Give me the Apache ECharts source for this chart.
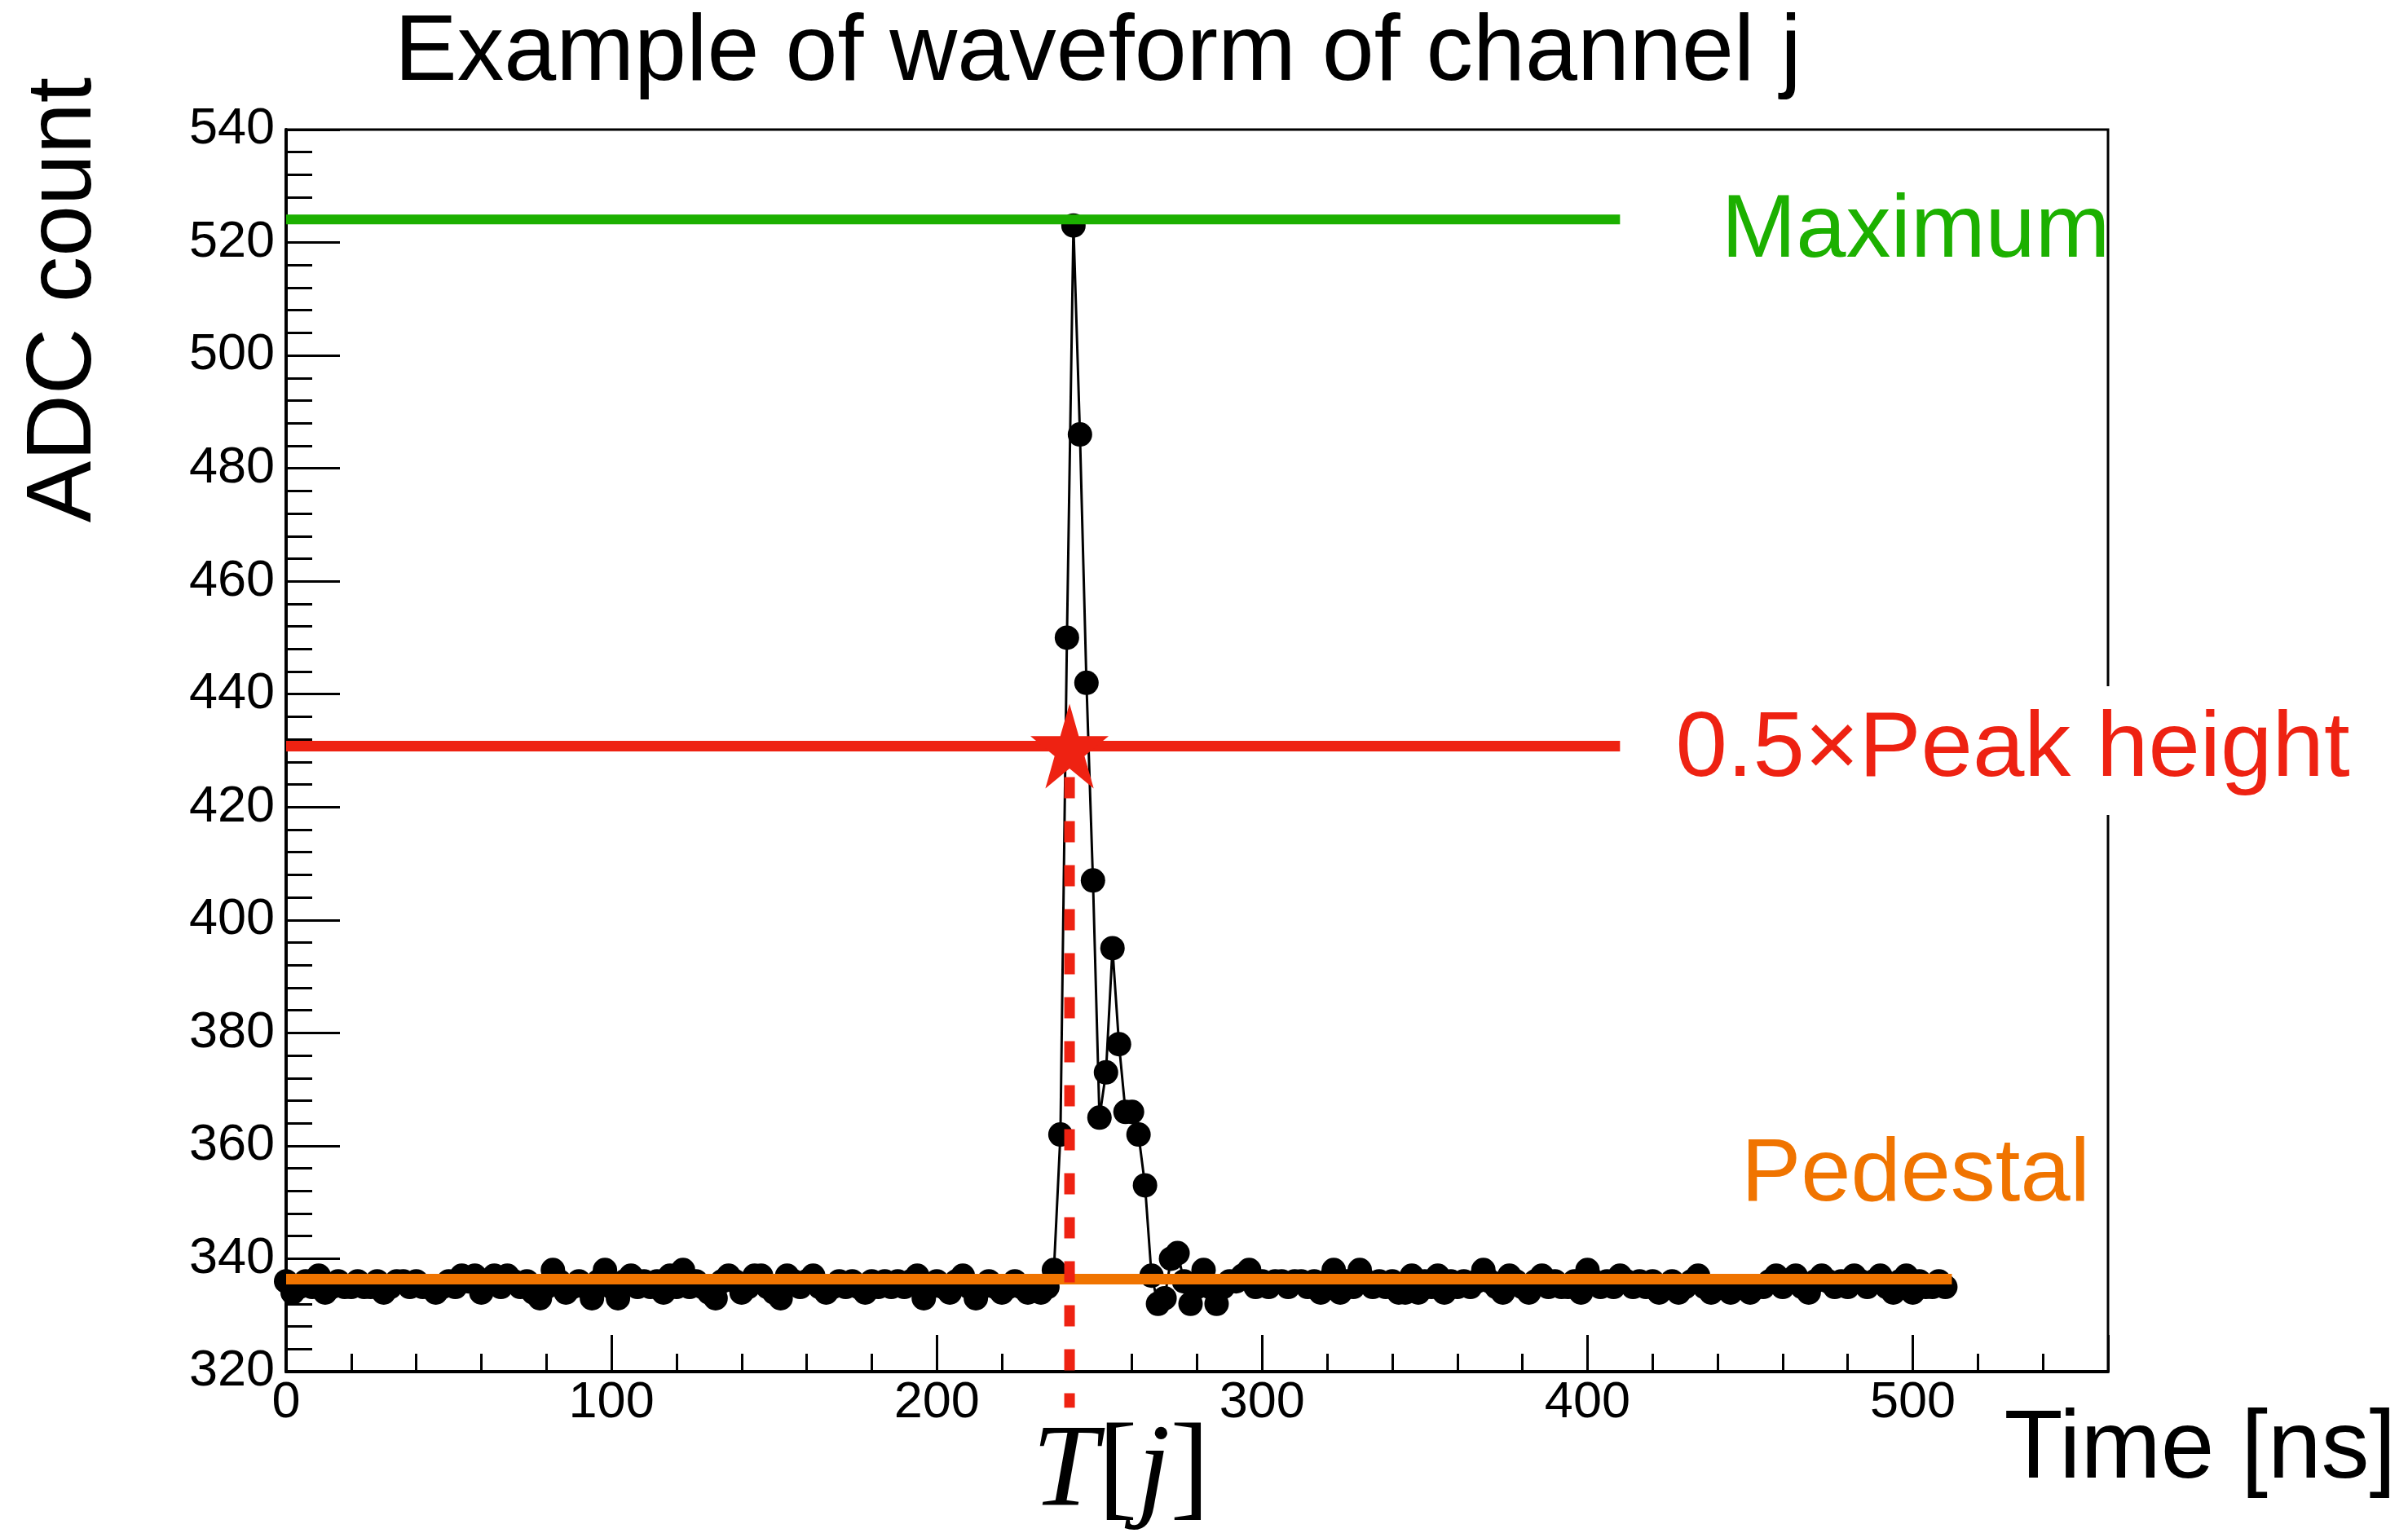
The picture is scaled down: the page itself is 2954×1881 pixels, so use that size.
<!DOCTYPE html>
<html>
<head>
<meta charset="utf-8">
<title>Example of waveform of channel j</title>
<script src="https://cdn.jsdelivr.net/npm/echarts@6/dist/echarts.min.js"></script>
<style>
  html, body { margin: 0; padding: 0; background: #ffffff; }
  #chart { width: 2954px; height: 1881px; }
</style>
</head>
<body>
<div id="chart"></div>
<script>
// Digitizer sampling period (ns) and the ADC samples of channel j, one every period from t = 0.
const samplePeriod = 2;
const adcCounts = [
  // 0 - 98 ns
  336, 334, 335, 336, 335, 337, 334, 335, 336, 335,
  335, 336, 335, 335, 336, 334, 335, 336, 336, 335,
  336, 335, 335, 334, 335, 336, 335, 337, 336, 337,
  334, 336, 337, 335, 337, 336, 335, 336, 334, 333,
  335, 338, 336, 334, 335, 336, 335, 333, 336, 338,
  // 100 - 198 ns
  335, 333, 336, 337, 335, 336, 335, 336, 334, 337,
  335, 338, 335, 336, 335, 334, 333, 336, 337, 336,
  334, 335, 337, 337, 335, 334, 333, 337, 336, 335,
  336, 337, 335, 334, 335, 336, 335, 336, 335, 334,
  336, 335, 336, 335, 336, 335, 336, 337, 333, 335,
  // 200 - 298 ns (pulse)
  336, 335, 334, 336, 337, 335, 333, 335, 336, 335,
  334, 335, 336, 335, 334, 335, 334, 335, 338, 362,
  450, 523, 486, 442, 407, 365, 373, 395, 378, 366,
  366, 362, 353, 337, 332, 333, 340, 341, 336, 332,
  335, 338, 335, 332, 335, 336, 336, 337, 338, 335,
  // 300 - 398 ns
  336, 335, 336, 336, 335, 336, 336, 335, 336, 334,
  336, 338, 334, 336, 335, 338, 336, 335, 336, 335,
  336, 334, 334, 337, 334, 336, 335, 337, 334, 336,
  335, 336, 335, 336, 338, 336, 335, 334, 337, 336,
  335, 334, 336, 337, 335, 336, 335, 335, 336, 334,
  // 400 - 510 ns
  338, 336, 335, 336, 335, 337, 336, 335, 336, 335,
  336, 334, 335, 336, 334, 335, 336, 337, 335, 334,
  335, 335, 334, 335, 335, 334, 335, 335, 336, 337,
  335, 336, 337, 335, 334, 336, 337, 336, 335, 336,
  335, 337, 336, 335, 336, 337, 335, 334, 336, 337,
  334, 336, 335, 335, 336, 335
];

// Reference levels extracted from the waveform (ADC counts) and the time T[j] (ns)
// where the leading edge crosses half of the peak height.
const maximumLevel = 524.1;
const halfHeightLevel = 430.8;
const pedestalLevel = 336.4;
const crossingTime = 240.8;

// Horizontal extent (ns) of the level lines, and the lower end of the T[j] drop line (ADC).
const levelLineRange = [0, 410];
const pedestalLineRange = [0, 512];
const dropLineBottom = 313.6;

// Axis ranges and tick steps.
const xRange = [0, 560];
const xMinorStep = 20;
const xMajorStep = 100;
const yRange = [320, 540];
const yMajorStep = 20;
const yMinorSplit = 5;

const waveformPoints = adcCounts.map((v, i) => [i * samplePeriod, v]);

const COLOR_MAX = '#1cb000';
const COLOR_HALF = '#ee2212';
const COLOR_PED = '#f07400';
const FONT = "'Liberation Sans', Helvetica, Arial, sans-serif";
const SERIF = "'Liberation Serif', 'Times New Roman', serif";

const starPath = 'path://M50,0L61.23,34.55L97.55,34.55L68.17,55.9L79.39,90.45L50,69.1L20.61,90.45L31.83,55.9L2.45,34.55L38.77,34.55Z';

const chart = echarts.init(document.getElementById('chart'), null, { renderer: 'canvas' });

const option = {
  backgroundColor: '#ffffff',
  animation: false,
  grid: {
    left: 351, top: 159, width: 2235, height: 1524,
    show: true, borderColor: '#000', borderWidth: 3, backgroundColor: 'transparent'
  },
  xAxis: [
    {
      type: 'value', min: xRange[0], max: xRange[1], interval: xMinorStep,
      axisLine: { show: true, onZero: false, lineStyle: { color: '#000', width: 4 } },
      axisTick: { show: true, inside: true, length: 22, lineStyle: { color: '#000', width: 3 } },
      axisLabel: {
        show: true, margin: 7, color: '#000', fontSize: 63, fontFamily: FONT,
        formatter: v => (v % xMajorStep === 0 && v < xRange[1]) ? String(v) : ''
      },
      splitLine: { show: false }
    },
    {
      type: 'value', min: xRange[0], max: xRange[1], interval: xMajorStep, position: 'bottom',
      axisLine: { show: false },
      axisTick: { show: true, inside: true, length: 45, lineStyle: { color: '#000', width: 3 } },
      axisLabel: { show: false },
      splitLine: { show: false }
    }
  ],
  yAxis: {
    type: 'value', min: yRange[0], max: yRange[1], interval: yMajorStep,
    axisLine: { show: true, onZero: false, lineStyle: { color: '#000', width: 4 } },
    axisTick: { show: true, inside: true, length: 66, lineStyle: { color: '#000', width: 3 } },
    minorTick: { show: true, splitNumber: yMinorSplit, length: 32, lineStyle: { color: '#000', width: 3 } },
    axisLabel: { show: true, margin: 14, color: '#000', fontSize: 63, fontFamily: FONT },
    splitLine: { show: false }
  },
  series: [
    {
      name: 'waveform', type: 'line', data: waveformPoints, z: 2,
      symbol: 'circle', symbolSize: 30, showAllSymbol: true,
      itemStyle: { color: '#000' },
      lineStyle: { color: '#000', width: 3 },
      silent: true
    },
    {
      name: 'Pedestal', type: 'line', z: 3, symbol: 'none', silent: true,
      data: [[pedestalLineRange[0], pedestalLevel], [pedestalLineRange[1], pedestalLevel]],
      lineStyle: { color: COLOR_PED, width: 13, cap: 'butt' }
    },
    {
      name: 'Maximum', type: 'line', z: 3, symbol: 'none', silent: true,
      data: [[levelLineRange[0], maximumLevel], [levelLineRange[1], maximumLevel]],
      lineStyle: { color: COLOR_MAX, width: 12, cap: 'butt' }
    },
    {
      name: 'Half height', type: 'line', z: 3, symbol: 'none', silent: true,
      data: [[levelLineRange[0], halfHeightLevel], [levelLineRange[1], halfHeightLevel]],
      lineStyle: { color: COLOR_HALF, width: 13, cap: 'butt' }
    },
    {
      name: 'T[j]', type: 'line', z: 4, symbol: 'none', silent: true, clip: false,
      data: [[crossingTime, halfHeightLevel], [crossingTime, dropLineBottom]],
      lineStyle: { color: COLOR_HALF, width: 13, type: [26, 28], dashOffset: 16, cap: 'butt' }
    },
    {
      name: 'crossing', type: 'scatter', z: 5, silent: true,
      data: [[crossingTime, halfHeightLevel]],
      symbol: starPath, symbolSize: [96, 104], symbolKeepAspect: false,
      itemStyle: { color: COLOR_HALF, opacity: 1 }
    }
  ],
  graphic: [
    {
      type: 'text', x: 1347, y: 66, z: 10,
      style: { text: 'Example of waveform of channel j', fill: '#000', fontSize: 115, fontFamily: FONT,
               align: 'center', verticalAlign: 'middle' }
    },
    {
      type: 'text', x: 80, y: 368, rotation: Math.PI / 2, z: 10,
      style: { text: 'ADC count', fill: '#000', fontSize: 113, fontFamily: FONT,
               align: 'center', verticalAlign: 'middle' }
    },
    {
      type: 'text', x: 2699, y: 1780, z: 10,
      style: { text: 'Time [ns]', fill: '#000', fontSize: 118, fontFamily: FONT,
               align: 'center', verticalAlign: 'middle' }
    },
    {
      type: 'text', x: 1375, y: 1808, z: 10,
      style: {
        text: '{i|T}{n|[}{i|j}{n|]}', align: 'center', verticalAlign: 'middle',
        rich: {
          i: { fontFamily: SERIF, fontStyle: 'italic', fontSize: 145, fill: '#000' },
          n: { fontFamily: SERIF, fontSize: 145, fill: '#000' }
        }
      }
    },
    {
      type: 'text', x: 2350, y: 285, z: 10,
      style: { text: 'Maximum', fill: COLOR_MAX, fontSize: 110, fontFamily: FONT,
               align: 'center', verticalAlign: 'middle' }
    },
    {
      type: 'text', x: 2469, y: 921, z: 10,
      style: { text: '0.5\u00d7Peak height', fill: COLOR_HALF, fontSize: 114, fontFamily: FONT,
               align: 'center', verticalAlign: 'middle',
               backgroundColor: '#ffffff', padding: [22, 24, 22, 24] }
    },
    {
      type: 'text', x: 2350, y: 1443, z: 10,
      style: { text: 'Pedestal', fill: COLOR_PED, fontSize: 110, fontFamily: FONT,
               align: 'center', verticalAlign: 'middle' }
    }
  ]
};

chart.setOption(option);
</script>
</body>
</html>
